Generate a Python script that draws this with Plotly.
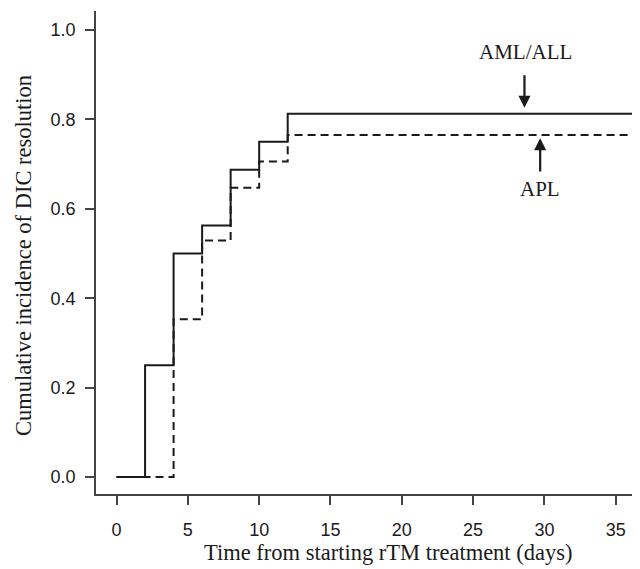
import plotly.graph_objects as go

# Data
aml_days = [0, 2, 4, 6, 8, 10, 12, 36.7]
aml_cuminc = [0.0, 0.25, 0.5, 0.5625, 0.6875, 0.75, 0.8125, 0.8125]
apl_days = [0, 4, 6, 8, 10, 12, 36.7]
apl_cuminc = [0.0, 0.353, 0.529, 0.647, 0.706, 0.765, 0.765]
x_ticks = [0, 5, 10, 15, 20, 25, 30, 35]
y_ticks = [0.0, 0.2, 0.4, 0.6, 0.8, 1.0]
y_ticklabels = ["0.0", "0.2", "0.4", "0.6", "0.8", "1.0"]

serif = "Liberation Serif, Times New Roman, serif"
sans = "Liberation Sans, Arial, sans-serif"
ink = "#1a1a1a"

fig = go.Figure()
fig.add_trace(go.Scatter(x=apl_days, y=apl_cuminc, mode="lines", line_shape="hv",
                         line=dict(color=ink, width=2, dash="8px,5px"), name="APL",
                         showlegend=False))
fig.add_trace(go.Scatter(x=aml_days, y=aml_cuminc, mode="lines", line_shape="hv",
                         line=dict(color=ink, width=2), name="AML/ALL",
                         showlegend=False))

# Arrows
fig.add_annotation(x=28.6, y=0.826, ax=28.6, ay=0.902, xref="x", yref="y",
                   axref="x", ayref="y", text="", showarrow=True,
                   arrowhead=2, arrowsize=1.1, arrowwidth=2.2, arrowcolor=ink)
fig.add_annotation(x=29.7, y=0.758, ax=29.7, ay=0.680, xref="x", yref="y",
                   axref="x", ayref="y", text="", showarrow=True,
                   arrowhead=2, arrowsize=1.1, arrowwidth=2.2, arrowcolor=ink)
fig.add_annotation(x=28.7, y=0.951, xref="x", yref="y", text="AML/ALL",
                   showarrow=False, xanchor="center", yanchor="middle",
                   font=dict(family=serif, size=21, color=ink))
fig.add_annotation(x=29.7, y=0.644, xref="x", yref="y", text="APL",
                   showarrow=False, xanchor="center", yanchor="middle",
                   font=dict(family=serif, size=21, color=ink))

# Axis titles as annotations (positioned relative to the plot area)
fig.add_annotation(x=0.537, y=-0.122, xref="paper", yref="paper",
                   xanchor="center", yanchor="middle",
                   text="Time from starting rTM treatment (days)", showarrow=False,
                   font=dict(family=serif, size=22.5, color=ink))
fig.add_annotation(x=-0.132, y=0.493, xref="paper", yref="paper", textangle=-90,
                   xanchor="center", yanchor="middle",
                   text="Cumulative incidence of DIC resolution", showarrow=False,
                   font=dict(family=serif, size=22.5, color=ink))

# The page body has an 8px margin, so margins compensate for that offset.
fig.update_layout(
    width=640, height=569,
    margin=dict(l=88, r=8, t=3, b=83),
    paper_bgcolor="white", plot_bgcolor="white",
    xaxis=dict(range=[-1.44, 36.7], tickvals=x_ticks, ticks="outside", ticklen=9,
               tickwidth=1.5, tickcolor="#444", showline=True, linecolor="#444",
               linewidth=1.5, showgrid=False, zeroline=False, automargin=False,
               tickfont=dict(family=sans, size=18, color=ink),
               ticklabelstandoff=10),
    yaxis=dict(range=[-0.038, 1.0425], tickvals=y_ticks, ticktext=y_ticklabels,
               ticks="outside", ticklen=9, tickwidth=1.5, tickcolor="#444",
               showline=True, linecolor="#444", linewidth=1.5, showgrid=False,
               zeroline=False, automargin=False,
               tickfont=dict(family=sans, size=18, color=ink),
               ticklabelstandoff=6),
)

fig.write_html("out.html")
